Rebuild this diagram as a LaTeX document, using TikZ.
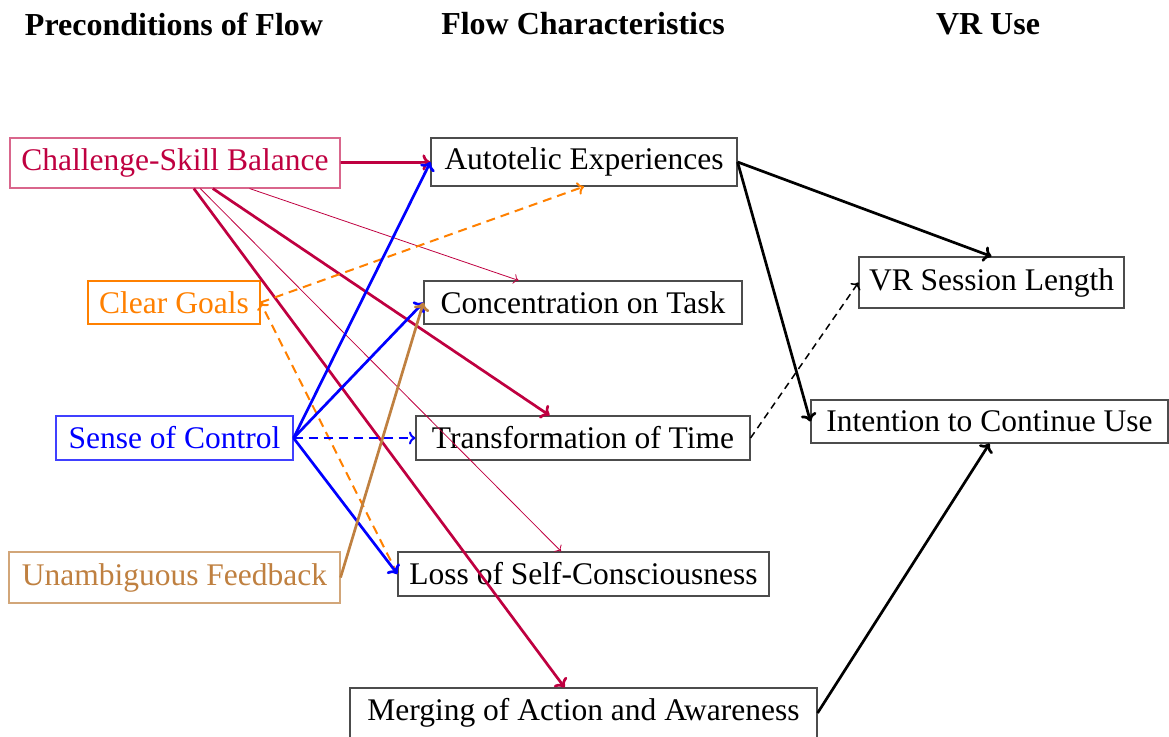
\documentclass[tikz,border=0pt]{standalone}
\usepackage{fontspec}
\setmainfont{Liberation Serif}
\usetikzlibrary{arrows.meta}
\begin{document}
\begin{tikzpicture}[x=1pt,y=-1pt,
  box/.style={draw, line width=1.1pt, inner sep=0pt, align=center, font=\fontsize{31.5}{36}\selectfont},
  hdr/.style={inner sep=0pt, font=\fontsize{32}{38}\selectfont\bfseries},
  thick arr/.style={-{Computer Modern Rightarrow[length=8pt,width=16pt]}, line width=2.7pt},
  thin arr/.style={-{Computer Modern Rightarrow[length=5pt,width=10pt]}, line width=0.8pt},
  dash arr/.style={-{Computer Modern Rightarrow[length=6.5pt,width=13pt]}, line width=2pt, dash pattern=on 9pt off 6pt},
  bdash arr/.style={-{Computer Modern Rightarrow[length=6pt,width=12pt]}, line width=1.5pt, dash pattern=on 7pt off 5pt}]
\useasboundingbox (0,0) rectangle (1169,736);
\node[hdr] (h1) at (174,24) {Preconditions of Flow};
\node[hdr] (h2) at (583,24) {Flow Characteristics};
\node[hdr] (h3) at (988,24) {VR Use};

\node[box, draw=purple!60, text=purple, minimum width=330, minimum height=50] (csb) at (175,163) {Challenge-Skill Balance};
\node[box, draw=orange, text=orange, minimum width=172, minimum height=43] (cg) at (174,302.5) {Clear Goals};
\node[box, draw=blue!75, text=blue, minimum width=237, minimum height=44] (soc) at (174.5,438) {Sense of Control};
\node[box, draw=brown!70, text=brown, minimum width=331, minimum height=51] (uf) at (174.5,577.5) {Unambiguous Feedback};

\node[box, draw=black!70, minimum width=306, minimum height=48] (ae) at (584,162) {Autotelic Experiences};
\node[box, draw=black!70, minimum width=318, minimum height=43] (ct) at (583,302.5) {Concentration on Task};
\node[box, draw=black!70, minimum width=334, minimum height=44] (tt) at (583,438) {Transformation of Time};
\node[box, draw=black!70, minimum width=371, minimum height=44] (lsc) at (583.5,574) {Loss of Self-Consciousness};
\node[box, draw=black!70, minimum width=467, minimum height=50] (maa) at (583.5,713) {Merging of Action and Awareness};

\node[box, draw=black!70, minimum width=265, minimum height=51] (vrs) at (991.5,282.5) {VR Session Length};
\node[box, draw=black!70, minimum width=357, minimum height=43] (icu) at (989.5,421.5) {Intention to Continue Use};

% Challenge-Skill Balance
\draw[thick arr, purple] (csb) -- (ae);
\draw[thin arr, purple] (csb) -- (ct);
\draw[thick arr, purple] (csb) -- (tt);
\draw[thin arr, purple] (csb) -- (lsc);
\draw[thick arr, purple] (csb) -- (maa);

% Clear Goals
\draw[dash arr, orange] (cg.east) -- (ae.south);
\draw[dash arr, orange] (lsc.west) -- (cg.east);

% Sense of Control
\draw[thick arr, blue] (soc.east) -- (ae.west);
\draw[thick arr, blue] (soc.east) -- (ct.west);
\draw[dash arr, blue] (soc.east) -- (tt.west);
\draw[thick arr, blue] (soc.east) -- (lsc.west);

% Unambiguous Feedback
\draw[thick arr, brown] (uf.east) -- (ct.west);

% VR Use
\draw[thick arr, black] (ae.east) -- (vrs.north);
\draw[thick arr, black] (ae.east) -- (icu.west);
\draw[bdash arr, black] (tt.east) -- (vrs.west);
\draw[thick arr, black] (maa.east) -- (icu.south);
\end{tikzpicture}
\end{document}
